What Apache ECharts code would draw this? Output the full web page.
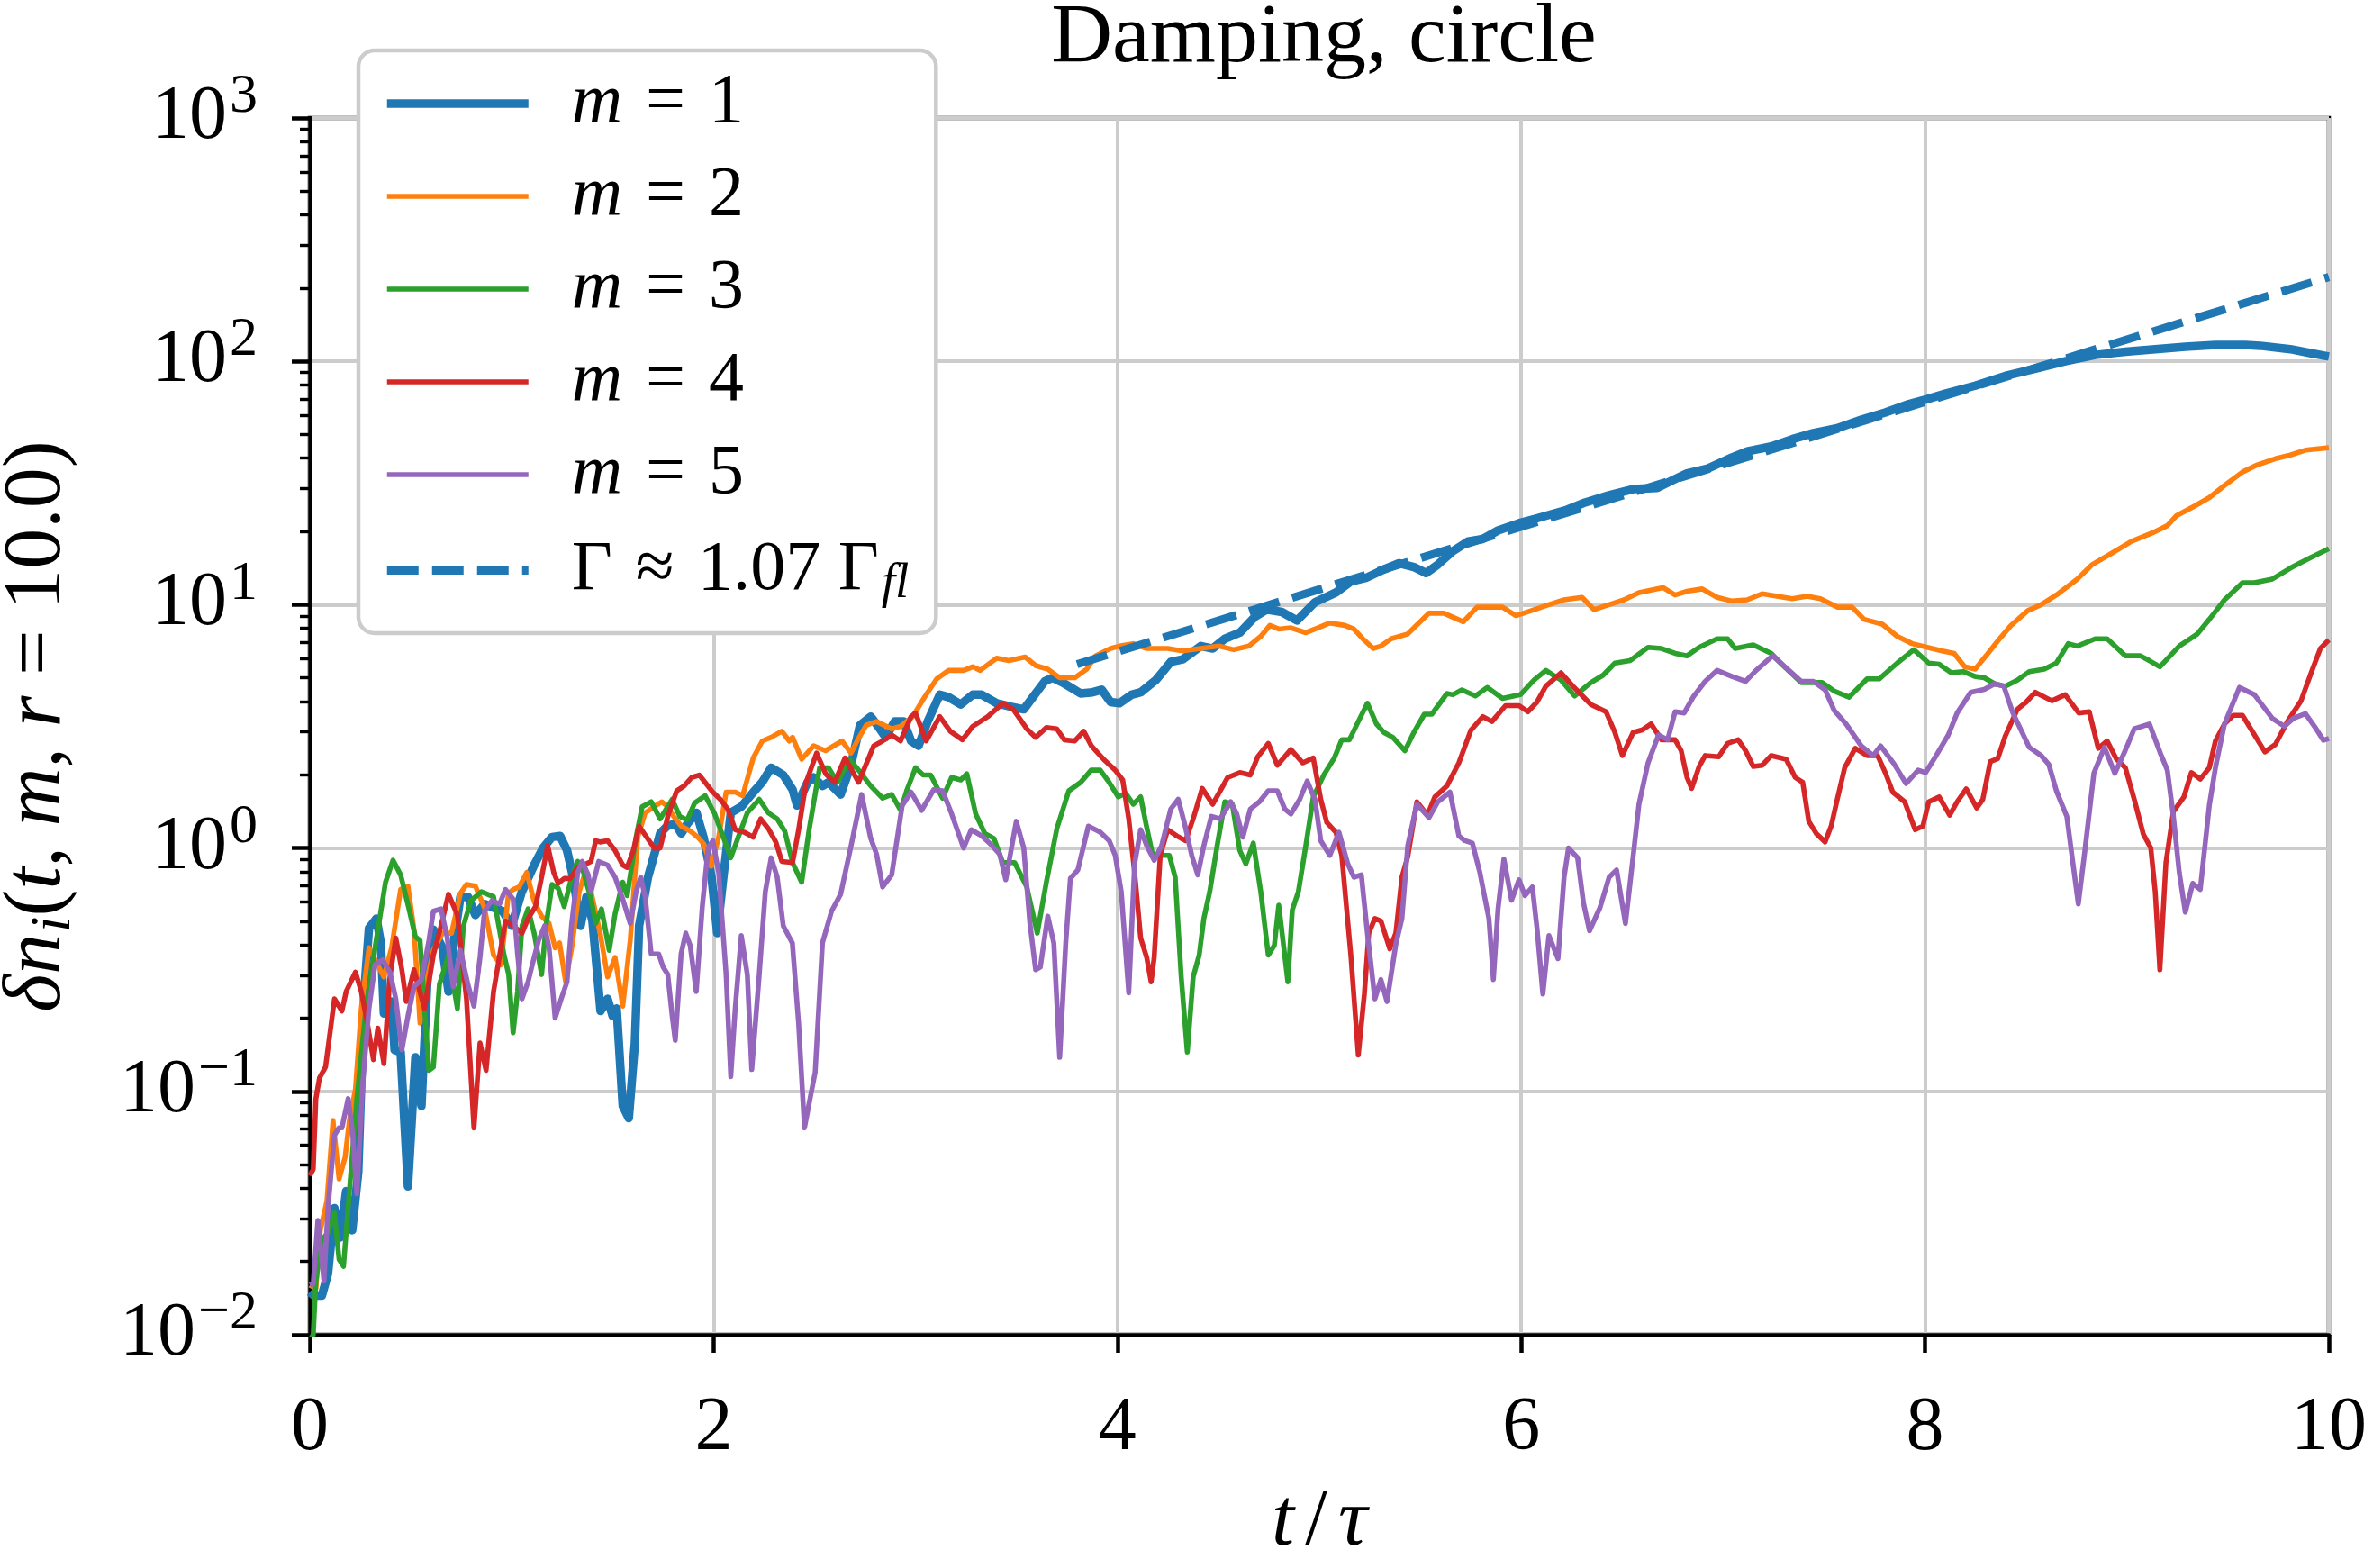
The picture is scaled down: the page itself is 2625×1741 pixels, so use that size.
<!DOCTYPE html>
<html>
<head>
<meta charset="utf-8">
<script src="https://cdn.jsdelivr.net/npm/echarts@6/dist/echarts.min.js"></script>
<style>
  html, body { margin: 0; padding: 0; background: #fff; }
  #chart { width: 2625px; height: 1741px; }
</style>
</head>
<body>
<div id="chart"></div>
<script>
// [t/tau, delta n_i], one array per mode
const m1 = [[0,0.015],[0.02,0.0145],[0.06,0.0145],[0.09,0.0178],[0.122,0.0331],[0.15,0.0251],[0.18,0.0389],[0.21,0.0269],[0.24,0.0468],[0.27,0.257],[0.293,0.468],[0.33,0.513],[0.352,0.407],[0.367,0.209],[0.405,0.234],[0.42,0.148],[0.45,0.145],[0.486,0.0407],[0.523,0.138],[0.553,0.0871],[0.583,0.295],[0.612,0.462],[0.657,0.389],[0.687,0.257],[0.717,0.432],[0.746,0.631],[0.783,0.631],[0.82,0.531],[0.865,0.589],[0.91,0.569],[0.955,0.55],[1.0,0.479],[1.05,0.661],[1.111,0.851],[1.155,1.0],[1.2,1.11],[1.24,1.12],[1.274,0.977],[1.304,0.759],[1.341,0.479],[1.37,0.631],[1.4,0.501],[1.44,0.214],[1.475,0.24],[1.5,0.204],[1.52,0.219],[1.55,0.0871],[1.58,0.0776],[1.61,0.158],[1.631,0.479],[1.675,0.759],[1.735,1.148],[1.77,1.23],[1.81,1.259],[1.84,1.148],[1.87,1.259],[1.915,1.396],[1.95,1.109],[1.99,0.759],[2.018,0.447],[2.048,0.759],[2.085,1.396],[2.137,1.479],[2.197,1.698],[2.24,1.862],[2.285,2.138],[2.345,1.995],[2.391,1.738],[2.413,1.496],[2.465,1.862],[2.495,1.95],[2.539,1.8],[2.569,1.862],[2.629,1.66],[2.68,2.188],[2.725,3.2],[2.778,3.467],[2.815,3.162],[2.852,2.851],[2.897,3.311],[2.941,3.311],[2.978,2.754],[3.015,2.63],[3.06,3.311],[3.12,4.266],[3.164,4.169],[3.224,3.89],[3.283,4.266],[3.328,4.266],[3.402,3.936],[3.476,3.802],[3.536,3.715],[3.581,4.169],[3.64,4.842],[3.678,5.012],[3.729,4.786],[3.818,4.315],[3.877,4.365],[3.922,4.47],[3.966,3.981],[4.01,3.936],[4.07,4.266],[4.115,4.365],[4.19,4.898],[4.264,5.821],[4.323,5.957],[4.413,6.761],[4.472,6.607],[4.532,7.244],[4.606,7.674],[4.68,8.913],[4.74,9.55],[4.814,9.333],[4.889,8.61],[4.978,10.23],[5.082,11.22],[5.156,12.45],[5.23,12.88],[5.32,13.96],[5.394,14.79],[5.468,14.29],[5.528,13.49],[5.587,14.62],[5.661,16.6],[5.736,18.2],[5.81,18.62],[5.885,20.18],[5.989,21.63],[6.078,22.65],[6.227,24.55],[6.316,26.3],[6.435,28.18],[6.554,29.85],[6.673,30.2],[6.747,32.36],[6.821,34.67],[6.925,36.31],[7.044,40.27],[7.119,42.66],[7.238,44.67],[7.342,47.86],[7.446,50.7],[7.565,53.09],[7.684,57.54],[7.803,61.66],[7.921,66.83],[8.011,69.98],[8.1,73.6],[8.248,79.43],[8.397,87.1],[8.546,93.33],[8.694,100],[8.843,106.2],[8.992,109.6],[9.14,112.2],[9.289,114.8],[9.438,116.7],[9.586,116.7],[9.66,115.9],[9.809,112.2],[9.913,107.9],[10.0,104.7]];

const m2 = [[0,0.016],[0.03,0.0155],[0.052,0.0269],[0.085,0.0355],[0.115,0.0759],[0.145,0.0437],[0.175,0.0537],[0.196,0.0759],[0.226,0.102],[0.255,0.219],[0.293,0.389],[0.33,0.339],[0.367,0.295],[0.405,0.389],[0.45,0.676],[0.486,0.698],[0.516,0.462],[0.546,0.191],[0.583,0.295],[0.612,0.38],[0.657,0.447],[0.702,0.447],[0.746,0.652],[0.776,0.708],[0.82,0.698],[0.865,0.569],[0.91,0.363],[0.947,0.331],[0.984,0.652],[1.007,0.676],[1.037,0.692],[1.074,0.794],[1.111,0.603],[1.148,0.525],[1.185,0.49],[1.215,0.389],[1.237,0.407],[1.267,0.282],[1.297,0.389],[1.334,0.661],[1.364,0.794],[1.393,0.661],[1.438,0.447],[1.475,0.295],[1.512,0.355],[1.55,0.224],[1.587,0.417],[1.624,1.109],[1.661,1.396],[1.706,1.479],[1.743,1.549],[1.773,1.479],[1.802,1.349],[1.84,1.23],[1.884,1.175],[1.921,1.109],[1.951,1.04],[1.988,0.841],[2.025,1.109],[2.062,1.698],[2.107,1.698],[2.144,1.641],[2.196,2.344],[2.241,2.754],[2.285,2.851],[2.338,3.02],[2.375,2.754],[2.391,2.851],[2.436,2.317],[2.495,2.63],[2.554,2.512],[2.636,2.754],[2.68,2.455],[2.711,2.754],[2.756,3.199],[2.807,3.311],[2.882,3.09],[2.926,3.162],[2.986,3.467],[3.045,4.169],[3.105,4.955],[3.164,5.37],[3.239,5.37],[3.283,5.559],[3.321,5.37],[3.402,6.026],[3.462,5.888],[3.543,6.095],[3.595,5.623],[3.655,5.433],[3.714,5.012],[3.789,5.012],[3.848,5.433],[3.892,6.166],[3.966,6.607],[4.01,6.761],[4.078,6.918],[4.145,6.607],[4.249,6.607],[4.323,6.457],[4.413,6.607],[4.502,6.761],[4.576,6.531],[4.651,6.761],[4.71,7.413],[4.755,8.222],[4.799,7.943],[4.859,8.035],[4.933,7.674],[4.993,8.035],[5.052,8.414],[5.126,8.222],[5.171,7.943],[5.215,7.244],[5.267,6.607],[5.305,6.761],[5.356,7.244],[5.438,7.586],[5.543,9.226],[5.617,9.226],[5.713,8.511],[5.781,9.772],[5.855,9.772],[5.907,9.772],[5.974,9.016],[6.048,9.441],[6.137,10.0],[6.212,10.47],[6.301,10.72],[6.36,9.55],[6.435,10.0],[6.509,10.47],[6.583,11.22],[6.702,11.75],[6.762,10.96],[6.821,11.35],[6.896,11.61],[6.97,10.72],[7.044,10.35],[7.119,10.47],[7.193,11.09],[7.267,10.84],[7.342,10.59],[7.416,10.84],[7.482,10.59],[7.565,9.772],[7.639,9.772],[7.698,8.71],[7.788,8.318],[7.862,7.413],[7.936,6.918],[8.011,6.683],[8.085,6.457],[8.144,6.31],[8.196,5.559],[8.248,5.433],[8.307,6.237],[8.359,7.079],[8.426,8.222],[8.508,9.441],[8.575,10.0],[8.65,10.96],[8.754,12.74],[8.828,14.62],[8.932,16.41],[9.022,18.2],[9.126,19.72],[9.2,21.13],[9.244,23.17],[9.334,25.41],[9.408,27.54],[9.483,30.9],[9.572,35.08],[9.646,37.58],[9.735,39.81],[9.809,41.21],[9.884,43.15],[10.0,44.16]];

const m3 = [[0,0.0095],[0.017,0.01],[0.03,0.0166],[0.06,0.0245],[0.09,0.0263],[0.122,0.0316],[0.145,0.0204],[0.167,0.0191],[0.196,0.0389],[0.233,0.0933],[0.278,0.219],[0.323,0.389],[0.375,0.724],[0.412,0.891],[0.45,0.776],[0.494,0.55],[0.523,0.432],[0.546,0.417],[0.568,0.219],[0.59,0.122],[0.612,0.126],[0.642,0.275],[0.687,0.363],[0.731,0.219],[0.761,0.479],[0.798,0.608],[0.85,0.661],[0.91,0.631],[0.962,0.363],[0.985,0.302],[1.007,0.174],[1.029,0.257],[1.051,0.479],[1.081,0.562],[1.111,0.447],[1.148,0.302],[1.17,0.479],[1.2,0.708],[1.23,0.684],[1.26,0.575],[1.297,0.759],[1.327,0.881],[1.356,0.794],[1.393,0.617],[1.416,0.49],[1.445,0.562],[1.483,0.38],[1.512,0.537],[1.55,0.724],[1.572,0.638],[1.616,1.109],[1.646,1.479],[1.691,1.549],[1.735,1.318],[1.795,1.585],[1.832,1.349],[1.869,1.303],[1.906,1.531],[1.958,1.641],[2.003,1.396],[2.048,1.109],[2.085,0.912],[2.122,1.109],[2.167,1.396],[2.226,1.585],[2.271,1.396],[2.315,1.318],[2.352,1.175],[2.391,0.871],[2.436,0.724],[2.473,1.189],[2.525,2.138],[2.569,2.138],[2.614,1.862],[2.673,2.317],[2.718,2.089],[2.778,1.8],[2.837,1.603],[2.882,1.66],[2.926,1.429],[2.956,1.718],[3.0,2.138],[3.038,1.995],[3.075,1.995],[3.134,1.603],[3.179,1.95],[3.224,1.905],[3.254,2.018],[3.298,1.38],[3.343,1.148],[3.388,1.096],[3.432,0.871],[3.491,0.871],[3.551,0.692],[3.603,0.447],[3.648,0.724],[3.7,1.202],[3.759,1.718],[3.818,1.862],[3.87,2.089],[3.915,2.089],[3.959,1.862],[4.004,1.622],[4.041,1.679],[4.078,1.514],[4.115,1.622],[4.145,1.216],[4.175,0.933],[4.219,0.933],[4.257,0.933],[4.286,0.759],[4.316,0.295],[4.346,0.145],[4.375,0.295],[4.405,0.363],[4.428,0.513],[4.457,0.661],[4.494,1.023],[4.532,1.549],[4.569,1.514],[4.606,0.977],[4.636,0.861],[4.673,1.047],[4.71,0.661],[4.747,0.363],[4.777,0.398],[4.799,0.582],[4.844,0.282],[4.866,0.556],[4.896,0.661],[4.933,1.023],[4.97,1.622],[5.022,1.995],[5.074,2.344],[5.111,2.786],[5.149,2.786],[5.193,3.311],[5.238,3.936],[5.283,3.236],[5.32,2.985],[5.364,2.851],[5.424,2.512],[5.468,2.985],[5.52,3.548],[5.557,3.548],[5.632,4.315],[5.661,4.266],[5.706,4.467],[5.773,4.217],[5.832,4.571],[5.907,4.121],[5.996,4.266],[6.063,4.898],[6.122,5.37],[6.197,4.898],[6.264,4.217],[6.345,4.786],[6.405,5.129],[6.464,5.754],[6.539,5.888],[6.628,6.683],[6.695,6.607],[6.762,6.31],[6.821,6.166],[6.881,6.683],[6.97,7.244],[7.022,7.244],[7.059,6.607],[7.149,6.839],[7.238,6.31],[7.297,5.623],[7.387,4.786],[7.49,4.786],[7.55,4.416],[7.624,4.169],[7.713,4.955],[7.773,4.955],[7.862,5.754],[7.944,6.531],[8.018,5.754],[8.07,5.689],[8.13,5.248],[8.189,5.309],[8.248,5.07],[8.293,5.012],[8.345,4.732],[8.397,4.624],[8.457,4.898],[8.516,5.309],[8.59,5.433],[8.65,5.754],[8.709,6.918],[8.754,6.761],[8.843,7.244],[8.902,7.244],[8.992,6.166],[9.066,6.166],[9.111,5.888],[9.163,5.559],[9.259,6.761],[9.349,7.586],[9.408,8.71],[9.483,10.47],[9.572,12.3],[9.631,12.3],[9.72,12.74],[9.809,14.13],[9.854,14.79],[9.913,15.67],[10.0,16.98]];

const m4 = [[0,0.045],[0.017,0.0479],[0.03,0.0933],[0.048,0.1135],[0.078,0.126],[0.122,0.24],[0.159,0.214],[0.18,0.257],[0.226,0.309],[0.255,0.257],[0.285,0.191],[0.315,0.135],[0.337,0.182],[0.367,0.13],[0.397,0.295],[0.426,0.427],[0.456,0.316],[0.478,0.234],[0.516,0.316],[0.568,0.219],[0.612,0.363],[0.65,0.479],[0.687,0.646],[0.731,0.531],[0.776,0.24],[0.813,0.0708],[0.843,0.158],[0.873,0.122],[0.91,0.257],[0.969,0.501],[1.007,0.479],[1.051,0.447],[1.081,0.513],[1.118,0.575],[1.148,0.759],[1.178,1.023],[1.208,0.794],[1.23,0.716],[1.26,0.75],[1.289,0.75],[1.327,0.832],[1.356,0.851],[1.393,0.881],[1.416,1.072],[1.438,1.059],[1.475,1.072],[1.512,0.977],[1.55,0.851],[1.572,0.832],[1.602,0.977],[1.631,1.23],[1.668,1.109],[1.706,1.0],[1.735,1.0],[1.773,1.349],[1.817,1.718],[1.854,1.8],[1.891,1.95],[1.929,1.995],[1.958,1.862],[1.996,1.698],[2.033,1.585],[2.07,1.445],[2.107,1.189],[2.152,1.161],[2.196,1.109],[2.233,1.318],[2.271,1.202],[2.308,1.059],[2.338,0.881],[2.391,0.871],[2.421,1.189],[2.458,1.862],[2.51,2.455],[2.555,2.018],[2.599,1.862],[2.651,2.344],[2.718,1.862],[2.793,2.63],[2.837,2.754],[2.882,2.917],[2.926,2.754],[2.978,3.467],[3.0,3.589],[3.053,2.754],[3.12,3.467],[3.172,3.02],[3.232,2.786],[3.283,3.162],[3.358,3.467],[3.432,3.936],[3.484,3.715],[3.551,3.09],[3.595,2.851],[3.648,3.126],[3.7,3.09],[3.737,2.786],[3.789,2.754],[3.833,3.02],[3.871,2.63],[3.937,2.291],[3.989,2.089],[4.026,1.905],[4.056,1.318],[4.085,0.794],[4.115,0.427],[4.145,0.355],[4.167,0.282],[4.182,0.355],[4.212,0.933],[4.249,1.189],[4.294,1.122],[4.338,1.072],[4.375,1.318],[4.42,1.758],[4.472,1.514],[4.509,1.718],[4.546,1.95],[4.606,2.042],[4.658,1.995],[4.695,2.371],[4.747,2.692],[4.792,2.188],[4.859,2.541],[4.918,2.239],[4.97,2.344],[5.007,1.585],[5.037,1.274],[5.082,1.161],[5.111,0.933],[5.156,0.363],[5.193,0.141],[5.223,0.251],[5.245,0.447],[5.275,0.513],[5.305,0.501],[5.349,0.385],[5.379,0.447],[5.409,0.759],[5.438,0.923],[5.483,1.549],[5.535,1.365],[5.572,1.622],[5.632,1.8],[5.691,2.239],[5.751,3.055],[5.81,3.467],[5.855,3.311],[5.922,3.846],[5.989,3.846],[6.033,3.631],[6.078,3.981],[6.122,4.624],[6.197,5.248],[6.256,4.624],[6.345,3.89],[6.42,3.631],[6.464,2.985],[6.501,2.399],[6.554,2.985],[6.598,3.055],[6.643,3.236],[6.695,2.786],[6.762,2.786],[6.792,2.512],[6.821,1.95],[6.844,1.758],[6.881,2.163],[6.911,2.399],[6.978,2.371],[7.022,2.692],[7.074,2.786],[7.111,2.512],[7.149,2.163],[7.193,2.188],[7.238,2.399],[7.312,2.317],[7.357,1.95],[7.394,1.862],[7.424,1.288],[7.461,1.148],[7.505,1.059],[7.535,1.23],[7.565,1.585],[7.602,2.138],[7.654,2.57],[7.713,2.399],[7.765,2.399],[7.803,2.042],[7.84,1.698],[7.899,1.549],[7.951,1.189],[7.989,1.23],[8.018,1.549],[8.07,1.622],[8.122,1.365],[8.159,1.549],[8.204,1.75],[8.256,1.462],[8.286,1.585],[8.323,2.265],[8.36,2.328],[8.397,2.884],[8.457,3.715],[8.501,3.981],[8.546,4.365],[8.628,4.027],[8.694,4.266],[8.761,3.589],[8.813,3.631],[8.858,2.57],[8.902,2.754],[8.947,2.328],[8.992,2.138],[9.036,1.585],[9.081,1.14],[9.118,1.0],[9.14,0.661],[9.163,0.316],[9.193,0.871],[9.23,1.413],[9.282,1.622],[9.319,2.042],[9.363,1.919],[9.408,2.138],[9.438,2.754],[9.483,3.236],[9.527,3.508],[9.572,3.508],[9.616,3.062],[9.683,2.483],[9.735,2.667],[9.795,3.311],[9.862,4.027],[9.914,5.297],[9.958,6.607],[10.0,7.161]];

const m5 = [[0,0.016],[0.017,0.0162],[0.04,0.0295],[0.07,0.0166],[0.09,0.0331],[0.122,0.0661],[0.145,0.0708],[0.159,0.0708],[0.19,0.0933],[0.212,0.0676],[0.233,0.038],[0.263,0.11],[0.293,0.219],[0.323,0.331],[0.36,0.347],[0.397,0.309],[0.426,0.24],[0.456,0.148],[0.486,0.204],[0.516,0.269],[0.553,0.288],[0.59,0.417],[0.612,0.55],[0.65,0.562],[0.68,0.432],[0.71,0.269],[0.746,0.38],[0.783,0.275],[0.813,0.224],[0.843,0.355],[0.865,0.55],[0.902,0.608],[0.94,0.589],[0.969,0.676],[1.007,0.617],[1.029,0.367],[1.051,0.24],[1.081,0.282],[1.111,0.355],[1.133,0.417],[1.163,0.479],[1.185,0.389],[1.215,0.2],[1.245,0.24],[1.274,0.282],[1.297,0.49],[1.327,0.794],[1.349,0.881],[1.379,0.776],[1.393,0.661],[1.431,0.881],[1.475,0.851],[1.512,0.759],[1.55,0.617],[1.587,0.49],[1.616,0.661],[1.639,0.759],[1.661,0.631],[1.691,0.367],[1.728,0.367],[1.75,0.324],[1.773,0.302],[1.795,0.204],[1.81,0.162],[1.839,0.367],[1.862,0.447],[1.884,0.398],[1.914,0.257],[1.944,0.575],[1.973,1.0],[1.996,1.072],[2.025,0.794],[2.062,0.302],[2.085,0.115],[2.107,0.219],[2.137,0.437],[2.167,0.302],[2.189,0.123],[2.226,0.302],[2.256,0.661],[2.285,0.912],[2.315,0.759],[2.345,0.479],[2.39,0.407],[2.421,0.19],[2.45,0.0708],[2.473,0.0891],[2.503,0.12],[2.539,0.407],[2.584,0.55],[2.629,0.646],[2.681,1.023],[2.733,1.66],[2.778,1.096],[2.807,0.944],[2.837,0.692],[2.882,0.776],[2.934,1.496],[2.978,1.698],[3.03,1.429],[3.09,1.738],[3.134,1.718],[3.179,1.38],[3.238,1.0],[3.276,1.189],[3.328,1.122],[3.373,1.035],[3.417,0.944],[3.447,0.741],[3.499,1.288],[3.536,1.0],[3.566,0.495],[3.595,0.316],[3.618,0.324],[3.655,0.525],[3.685,0.407],[3.714,0.138],[3.744,0.407],[3.767,0.75],[3.804,0.813],[3.856,1.23],[3.915,1.161],[3.959,1.072],[3.989,0.933],[4.019,0.661],[4.056,0.254],[4.085,0.861],[4.115,1.189],[4.145,1.023],[4.182,0.891],[4.219,1.023],[4.264,1.445],[4.301,1.585],[4.331,1.274],[4.368,0.933],[4.398,0.776],[4.428,1.023],[4.465,1.349],[4.509,1.318],[4.561,1.549],[4.591,1.38],[4.621,1.109],[4.658,1.445],[4.703,1.549],[4.747,1.718],[4.792,1.718],[4.829,1.445],[4.859,1.38],[4.903,1.585],[4.94,1.884],[4.978,1.585],[5.007,1.072],[5.052,0.933],[5.097,1.161],[5.141,0.861],[5.171,0.759],[5.208,0.776],[5.238,0.447],[5.275,0.24],[5.305,0.288],[5.335,0.234],[5.379,0.403],[5.409,0.513],[5.438,1.023],[5.483,1.514],[5.543,1.334],[5.587,1.549],[5.647,1.698],[5.691,1.122],[5.721,1.072],[5.758,1.047],[5.795,0.794],[5.84,0.513],[5.862,0.288],[5.885,0.562],[5.914,0.902],[5.952,0.61],[5.989,0.741],[6.018,0.638],[6.055,0.692],[6.078,0.468],[6.107,0.251],[6.137,0.437],[6.182,0.351],[6.212,0.759],[6.234,1.0],[6.279,0.912],[6.308,0.596],[6.338,0.457],[6.39,0.569],[6.435,0.759],[6.472,0.813],[6.516,0.49],[6.554,0.923],[6.583,1.514],[6.628,2.239],[6.68,2.917],[6.725,2.786],[6.762,3.631],[6.807,3.589],[6.851,4.169],[6.911,4.842],[6.97,5.37],[7.044,5.07],[7.111,4.842],[7.163,5.37],[7.245,6.166],[7.312,5.495],[7.387,4.842],[7.446,4.842],[7.505,4.467],[7.55,3.673],[7.609,3.236],[7.684,2.63],[7.743,2.399],[7.78,2.63],[7.847,2.213],[7.906,1.841],[7.966,2.089],[8.003,2.042],[8.055,2.399],[8.115,2.917],[8.159,3.589],[8.226,4.365],[8.293,4.487],[8.345,4.732],[8.39,4.624],[8.434,3.606],[8.516,2.594],[8.575,2.399],[8.613,2.203],[8.65,1.722],[8.702,1.349],[8.732,0.871],[8.759,0.589],[8.791,0.968],[8.836,2.028],[8.888,2.594],[8.94,2.028],[8.992,2.523],[9.036,3.09],[9.111,3.236],[9.17,2.399],[9.2,2.089],[9.23,1.349],[9.259,0.794],[9.289,0.545],[9.326,0.716],[9.363,0.676],[9.408,1.5],[9.438,2.138],[9.483,3.236],[9.557,4.571],[9.631,4.266],[9.72,3.412],[9.78,3.162],[9.824,3.412],[9.884,3.565],[9.929,3.162],[9.973,2.773],[10.0,2.818]];

// growth-rate fit, straight on the log axis: end points
const fit = [[3.8, 5.69], [10, 222]];

const names = ['m = 1', 'm = 2', 'm = 3', 'm = 4', 'm = 5', 'Γ ≈ 1.07 Γfl'];
const legendText = ['{i|m}{eq|=}{r|1}', '{i|m}{eq|=}{r|2}', '{i|m}{eq|=}{r|3}', '{i|m}{eq|=}{r|4}', '{i|m}{eq|=}{r|5}', '{r|Γ}{eq|≈}{r|1.07 Γ}{sb|fl}'];
const colors = ['#1f77b4', '#ff7f0e', '#2ca02c', '#d62728', '#9467bd', '#1f77b4'];
const widths = [9.5, 5.6, 5.6, 5.6, 5.6, 9];
const yExpLabels = ['−2', '−1', '0', '1', '2', '3'];
const yMinorTicks = [0.02,0.03,0.04,0.05,0.06,0.07,0.08,0.09,0.2,0.3,0.4,0.5,0.6,0.7,0.8,0.9,2,3,4,5,6,7,8,9,20,30,40,50,60,70,80,90,200,300,400,500,600,700,800,900];

const serif = 'Liberation Serif';
const legendRich = {
  i: { fontFamily: serif, fontStyle: 'italic', fontSize: 78, lineHeight: 86, color: '#000' },
  r: { fontFamily: serif, fontSize: 78, lineHeight: 86, color: '#000' },
  eq: { fontFamily: serif, fontSize: 78, lineHeight: 86, color: '#000', padding: [0, 26, 0, 26] },
  sb: { fontFamily: serif, fontStyle: 'italic', fontSize: 55, lineHeight: 55, padding: [30, 0, 0, 3], color: '#000' }
};
const nameRich = {
  i: { fontFamily: serif, fontStyle: 'italic', fontSize: 90, lineHeight: 100, color: '#000' },
  r: { fontFamily: serif, fontSize: 90, lineHeight: 100, color: '#000' },
  sl: { fontFamily: serif, fontSize: 90, lineHeight: 100, color: '#000', padding: [0, 12, 0, 12] },
  sb: { fontFamily: serif, fontStyle: 'italic', fontSize: 63, lineHeight: 63, padding: [36, 0, 0, 2], color: '#000' }
};

const chart = echarts.init(document.getElementById('chart'), null, { renderer: 'canvas' });

const allData = [m1, m2, m3, m4, m5, fit];
const series = allData.map((d, k) => ({
  name: names[k],
  type: 'line',
  data: d,
  symbol: 'none',
  showSymbol: false,
  lineStyle: {
    color: colors[k],
    width: widths[k],
    type: k === 5 ? [35, 15] : 'solid',
    cap: 'butt',
    join: 'round'
  },
  itemStyle: { color: colors[k] },
  z: 2 + k * 0.01
}));

const option = {
  animation: false,
  backgroundColor: '#fff',
  title: {
    text: 'Damping, circle',
    left: 1465,
    textAlign: 'center',
    top: -9,
    textStyle: { fontFamily: serif, fontSize: 94, fontWeight: 'normal', color: '#000' }
  },
  grid: {
    left: 344, right: 39, top: 131, bottom: 259,
    containLabel: false,
    outerBoundsMode: 'none',
    show: true, borderColor: '#000', borderWidth: 4.5, backgroundColor: 'transparent'
  },
  legend: {
    orient: 'vertical',
    left: 398,
    top: 56,
    itemWidth: 157,
    itemHeight: 78,
    itemGap: 25,
    padding: [20, 30, 27, 27],
    backgroundColor: '#fff',
    borderColor: '#cccccc',
    borderWidth: 4.5,
    borderRadius: 18,
    selectedMode: false,
    itemStyle: { opacity: 0 },
    data: names.map((n, k) => ({
      name: n,
      lineStyle: { color: colors[k], width: widths[k], type: k === 5 ? [35, 15] : 'solid', cap: 'butt' }
    })),
    formatter: n => legendText[names.indexOf(n)],
    textStyle: { fontFamily: serif, fontSize: 78, color: '#000', padding: [0, 0, 0, 43], rich: legendRich }
  },
  xAxis: {
    type: 'value',
    min: 0, max: 10, interval: 2,
    name: '{i|t}{sl|/}{i|τ}',
    nameLocation: 'middle',
    nameGap: 159,
    nameTextStyle: { rich: nameRich },
    axisLine: { show: true, lineStyle: { color: '#000', width: 4.5 } },
    axisTick: { show: true, inside: false, length: 20, lineStyle: { color: '#000', width: 4.5 } },
    axisLabel: { margin: 62, fontFamily: serif, fontSize: 84, color: '#000', lineHeight: 86 },
    splitLine: { show: true, lineStyle: { color: '#cccccc', width: 4 } }
  },
  yAxis: [
    {
      type: 'log',
      logBase: 10,
      min: 0.01, max: 1000,
      splitNumber: 5,
      name: '{i|δn}{sb|i}{r|(}{i|t}{r|, }{i|m}{r|, }{i|r}{r| = 10.0)}',
      nameLocation: 'middle',
      nameGap: 252,
      nameTextStyle: { rich: nameRich },
      axisLine: { show: true, lineStyle: { color: '#000', width: 4.5 } },
      axisTick: { show: true, inside: false, length: 20, lineStyle: { color: '#000', width: 4.5 } },
      axisLabel: {
        margin: 58,
        formatter: v => '{b|10}{s|' + yExpLabels[Math.round(Math.log10(v)) + 2] + '}',
        rich: {
          b: { fontFamily: serif, fontSize: 84, lineHeight: 84, color: '#000' },
          s: { fontFamily: serif, fontSize: 62, lineHeight: 62, padding: [0, 0, 46, 3], color: '#000' }
        }
      },
      splitLine: { show: true, lineStyle: { color: '#cccccc', width: 4 } }
    },
    {
      type: 'log',
      logBase: 10,
      min: 0.01, max: 1000,
      position: 'left',
      axisLine: { show: false },
      axisLabel: { show: false },
      splitLine: { show: false },
      axisTick: { show: true, inside: false, length: 11, customValues: yMinorTicks, lineStyle: { color: '#000', width: 3.4 } }
    }
  ],
  series: series
};

chart.setOption(option);
</script>
</body>
</html>
